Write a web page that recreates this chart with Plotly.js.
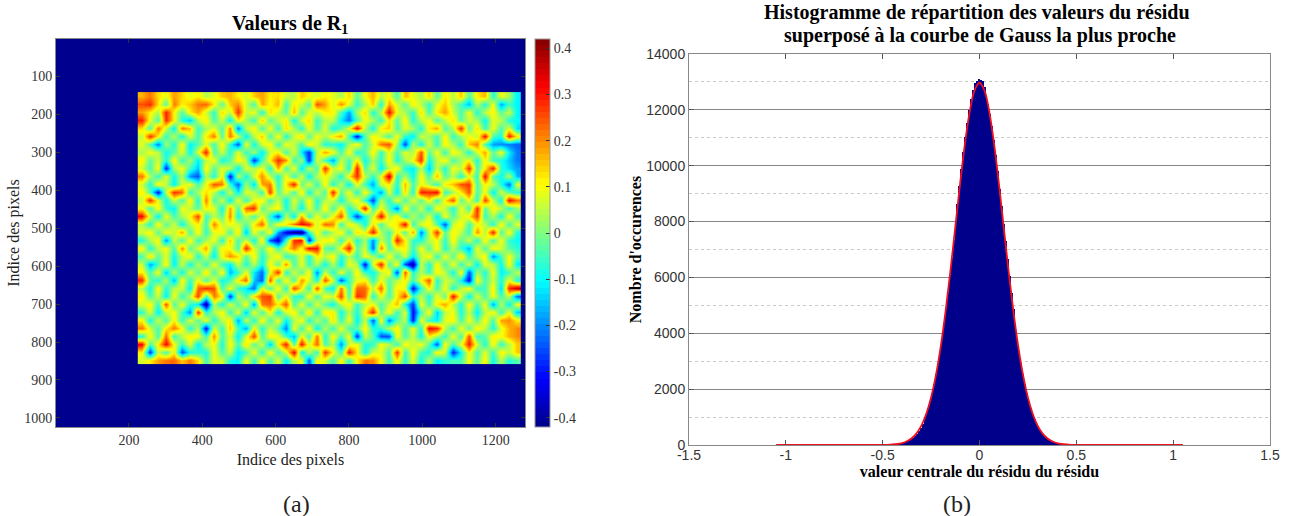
<!DOCTYPE html>
<html><head><meta charset="utf-8">
<script src="https://cdn.plot.ly/plotly-3.0.1.min.js"></script>
<style>html,body{margin:0;padding:0;background:#fff}</style></head>
<body><div id="chart" style="width:1295px;height:516px"></div>
<script>
// Residual map, in 1/120ths, 48 columns x 34 rows
const residualRows = [
[20,26,16,10,22,16,10,14,5,10,18,20,14,8,18,22,14,16,8,5,18,12,8,14,10,4,16,-4,12,20,6,12,-6,20,10,4,16,-4,14,6,18,-4,14,20,-10,12,4,-14],
[30,34,16,-4,26,14,18,26,28,14,-4,18,24,8,-6,22,12,20,-6,14,8,-4,30,22,8,24,10,-8,4,18,-10,22,8,-4,14,6,-8,10,18,4,-6,-20,6,-10,12,-22,-6,-14],
[22,14,4,36,12,-4,14,22,8,-8,16,6,34,6,12,-10,16,8,-4,20,-6,10,6,14,14,-6,-22,4,16,-10,6,38,10,4,-8,16,-6,14,22,8,-6,12,-10,6,14,-4,8,-14],
[36,10,-6,34,14,-10,-18,6,14,-6,8,-14,14,4,-8,18,-4,6,14,-12,8,16,-8,6,6,-14,-26,-6,12,4,-8,16,-4,14,-10,6,12,-6,6,16,-4,8,4,-12,10,6,-10,-12],
[16,-6,26,8,-14,26,18,-8,4,10,-6,24,-26,6,14,-6,12,-8,16,4,-10,12,-6,10,-12,-4,10,38,6,-12,14,18,-6,10,4,-10,14,22,-6,6,34,-4,16,-8,12,-6,10,-16],
[6,34,14,-8,6,-12,10,-6,14,26,-4,26,8,-14,6,18,-6,14,-10,8,16,-4,12,4,14,22,-6,-38,-4,14,6,-6,12,-8,-14,8,4,-6,14,-8,4,12,6,38,-6,-10,36,14],
[10,-4,-26,4,-10,14,-14,-4,10,-6,14,-8,-30,12,-12,8,14,-8,12,6,-6,14,8,-10,-8,-14,4,14,-6,8,26,30,4,-32,6,-12,10,-8,14,4,-8,18,26,-6,-22,-24,-26,-28],
[4,12,6,-12,-4,10,-12,8,36,-6,8,-10,10,-8,4,-14,8,14,-6,10,-14,-34,6,22,12,-6,14,-10,-4,14,-8,12,-6,10,4,30,-4,12,-8,14,6,-10,8,22,-4,12,-14,-26],
[14,-4,8,-10,14,-8,4,-14,6,12,-12,-4,14,6,-34,-6,14,34,24,-8,4,-34,10,-6,-22,8,-6,14,-12,4,-8,14,-10,4,12,34,-12,6,14,-6,4,12,-10,14,-6,-10,-18,-26],
[8,-6,14,-36,4,12,-6,-18,14,-4,10,6,-14,10,4,12,-10,22,-6,12,-16,8,-6,34,6,12,-10,36,-6,10,-14,6,14,-10,-14,6,-18,8,-10,12,6,34,-6,14,36,-8,-16,-22],
[26,4,-8,10,-12,6,-24,-30,6,-10,14,-38,6,-12,8,24,6,-10,12,-8,10,-14,6,12,4,-10,14,34,6,-8,10,44,-8,4,-12,14,-6,20,-4,6,-10,12,-8,38,-4,-12,6,-20],
[8,-10,14,6,-14,8,12,-6,10,30,26,-8,-28,4,-16,22,26,-8,14,36,-4,10,-8,14,-10,6,-14,12,-6,-22,8,14,-10,20,-6,12,4,-8,14,18,30,32,-6,14,6,-10,-28,10],
[14,-4,-38,6,34,28,-8,4,16,6,-12,8,-14,10,6,-8,32,-4,10,-6,16,-12,8,-6,36,-4,12,-10,14,-6,-22,10,-14,16,-10,36,34,38,-8,4,14,30,-6,12,-14,8,-4,-10],
[6,34,10,-12,8,-6,14,-10,26,-6,8,-14,12,-8,10,14,-6,8,-12,10,-6,14,-10,6,8,-12,6,14,-8,-32,6,-10,12,-6,10,-4,14,-8,14,30,-4,12,-8,32,6,-12,38,26],
[12,-6,14,-8,-14,12,6,-4,14,10,-12,22,-6,28,34,-4,8,14,-10,6,-14,10,-6,14,-6,14,-10,4,36,-8,12,-4,-26,14,-6,8,-12,14,6,-10,12,-6,34,-4,14,6,-8,4],
[38,8,-14,12,-6,4,12,32,-8,6,-4,24,-12,8,-6,12,-8,-30,6,-14,22,-8,12,-4,12,30,-6,-32,-10,8,38,4,14,-10,6,-6,10,-14,12,-4,8,14,32,-8,6,-12,14,-6],
[6,-10,14,-4,8,-12,6,14,-6,26,6,12,8,-4,14,28,-4,12,14,26,38,34,6,28,24,-8,14,6,-12,16,-6,12,14,38,-8,10,14,-4,-30,8,14,-6,12,6,-10,14,-6,10],
[8,14,-4,12,6,22,-6,14,-8,10,14,-6,16,-18,12,-4,14,-22,-40,-50,-54,-8,14,-6,6,14,-8,16,10,36,4,-6,14,-4,22,-26,6,34,-4,14,6,-8,24,4,36,-6,14,-10],
[-10,4,14,-24,8,-6,14,-8,4,12,-10,18,-6,8,-12,16,-30,-42,-8,34,38,-36,6,14,12,-8,14,-10,4,-24,8,-6,36,14,-8,-10,6,12,-8,14,-4,8,-10,14,-6,12,-8,-12],
[14,-10,6,12,-6,24,-4,8,22,-8,14,12,-6,36,8,-4,14,-6,12,26,10,38,36,-4,-6,14,36,-4,8,-28,26,-6,10,14,-8,12,-4,14,-10,6,-8,-20,12,-6,14,8,-4,-8],
[-6,16,-4,10,-12,6,14,-10,8,-14,12,24,16,-4,14,-10,6,14,-8,-4,12,-10,14,6,14,-10,6,-8,12,4,-10,14,-6,8,-14,6,14,-8,12,-4,16,-8,6,14,-24,-6,12,-4],
[8,-22,-6,14,-14,8,-12,6,-8,12,-6,-14,8,-10,6,-12,14,-4,24,-6,12,-8,6,-12,6,-14,12,4,-38,10,36,-6,14,-30,-48,8,-10,14,-6,12,-8,8,-14,10,6,-12,14,-14],
[14,-6,12,-18,6,-12,10,-4,16,-6,14,-20,-8,12,-14,-28,10,34,-10,8,-4,14,-24,8,-10,12,-6,14,-8,-12,6,14,-32,30,-10,6,-8,14,6,-12,14,-30,4,-10,12,-14,-6,6],
[34,-4,-10,6,-20,14,-8,12,-6,10,-12,-6,14,28,-18,-30,30,-8,14,-6,24,8,-10,30,8,-30,-6,10,14,-8,12,-4,6,14,-6,12,30,-10,8,4,-12,-38,14,-6,8,-10,12,-10],
[6,-12,14,-10,6,8,-14,28,34,30,-6,12,-8,-14,-28,12,-6,14,-10,32,14,-8,30,-6,-14,26,-8,28,28,6,28,-6,14,10,-38,-8,14,-6,12,-10,6,14,-8,-6,14,-16,34,44],
[14,-6,8,-14,12,-8,6,32,-6,26,14,-34,8,-6,16,30,32,-4,12,-8,-10,14,-6,12,8,32,-6,34,28,-10,12,-6,14,32,-8,6,-10,12,-4,38,8,-14,10,-6,12,-6,8,-28],
[8,14,-8,30,-6,12,-8,-14,-48,6,-12,10,-6,14,-22,26,28,14,30,-6,12,-8,10,-4,-12,6,14,-8,6,12,-6,8,20,-10,-34,12,-6,14,22,6,-10,14,-6,12,-22,6,-14,12],
[-8,10,-14,6,12,-6,-24,34,-10,4,14,-8,10,-18,12,-6,14,-12,8,14,-6,16,-10,14,14,-12,6,-10,12,36,-4,14,-8,10,-38,-6,14,-18,6,12,-10,8,-14,6,14,-8,12,-18],
[14,-12,8,-6,14,-8,10,-4,12,-10,6,14,-22,8,-10,14,-6,12,-14,4,14,-10,6,-6,16,-8,12,-14,8,-30,14,-26,-4,6,-36,12,-8,-14,10,14,-6,12,-4,14,-6,22,24,14],
[26,8,-6,14,26,12,-10,6,-38,10,-8,18,-6,-22,14,-10,8,-4,-26,12,-8,14,-14,6,-8,12,-6,-4,14,-10,-8,6,14,-6,12,-10,38,34,6,-8,12,-4,14,6,-10,10,20,24],
[-10,14,-6,28,-8,6,14,12,-8,24,-6,10,-14,8,32,-6,14,10,-6,-20,14,-6,26,-10,14,-6,12,-34,8,-4,-30,-30,14,-6,8,-12,14,4,-8,12,-6,30,-8,-4,14,12,20,24],
[38,-6,14,38,12,-8,10,-14,6,12,-10,14,-6,16,-4,8,-18,12,36,-6,38,8,28,-6,6,-24,8,12,-10,-8,12,6,-8,14,6,12,-4,-30,14,-6,10,36,8,-10,14,-8,6,18],
[14,-34,8,-6,14,-30,-10,-8,-10,12,-6,8,-14,-6,12,-10,14,-6,8,40,-14,6,-8,34,12,-8,36,14,-12,8,10,-6,34,-8,14,-6,-10,14,8,-36,-12,14,-6,10,-8,14,6,18],
[8,14,22,26,28,18,26,16,-6,10,8,-10,-14,12,-8,14,-6,10,-14,6,12,-28,14,8,-6,14,-8,14,26,24,12,-6,14,-8,10,-12,6,-14,-8,-6,-6,12,-4,14,-12,6,-10,-4]
];
const valueScale = 120;
// Histogram heights, one per 0.01-wide bin starting at -0.454
const histCounts = [14,19,25,33,44,58,76,99,127,163,207,262,328,409,505,621,757,917,1105,1324,1575,1860,2180,2538,2934,3370,3844,4355,4900,5469,6075,6701,7345,7991,8637,9272,9889,10474,11018,11512,12000,12400,12700,12950,13030,13090,13070,13020,12820,12540,12220,11850,11420,10930,10390,9800,9180,8560,7920,7290,6650,6040,5440,4880,4340,3840,3370,2934,2538,2180,1860,1575,1324,1105,917,757,621,505,409,328,262,207,163,127,99,76,58,44,33,25,19];
const histStart = -0.454, histBin = 0.01;
// Fitted Gaussian
const gaussX = [-1.05,-0.55,-0.5,-0.475,-0.45,-0.425,-0.4,-0.375,-0.35,-0.325,-0.3,-0.275,-0.25,-0.225,-0.2,-0.175,-0.15,-0.125,-0.1,-0.075,-0.05,-0.025,0,0.025,0.05,0.075,0.1,0.125,0.15,0.175,0.2,0.225,0.25,0.275,0.3,0.325,0.35,0.375,0.4,0.425,0.45,0.475,0.5,0.55,1.05];
const gaussY = [0,1,4,8,18,36,71,134,241,418,695,1109,1699,2500,3532,4791,6240,7803,9370,10802,11957,12709,12970,12709,11957,10802,9370,7803,6240,4791,3532,2500,1699,1109,695,418,241,134,71,36,18,8,4,1,0];
const mapYTicks = [100,200,300,400,500,600,700,800,900,1000];
const mapXTicks = [200,400,600,800,1000,1200];
const barTicks = [-0.4,-0.3,-0.2,-0.1,0,0.1,0.2,0.3,0.4];
const barLabels = ['-0.4','-0.3','-0.2','-0.1','0','0.1','0.2','0.3','0.4'];
const histXTicks = [-1.5,-1,-0.5,0,0.5,1,1.5];
const histXLabels = ['-1.5','-1','-0.5','0','0.5','1','1.5'];
const histYTicks = [0,2000,4000,6000,8000,10000,12000,14000];
const histYLabels = ['0','2000','4000','6000','8000','10000','12000','14000'];
const backgroundValue = -0.42;

const W = 1295, H = 516;
const fx = p => p / W, fy = p => 1 - p / H;
const SERIF = '"Liberation Serif", serif', SANS = '"Liberation Sans", sans-serif';

// MATLAB-style 64-level jet
const jetStops = [[0,[0,0,135]],[0.125,[0,0,255]],[0.375,[0,255,255]],[0.625,[255,255,0]],[0.875,[255,0,0]],[1,[128,0,0]]];
function jetAt(t){
  for(let i=1;i<jetStops.length;i++){
    if(t<=jetStops[i][0]){
      const a=jetStops[i-1],b=jetStops[i],u=(t-a[0])/(b[0]-a[0]);
      return 'rgb('+a[1].map((v,k)=>Math.round(v+(b[1][k]-v)*u)).join(',')+')';
    }
  }
  return 'rgb(128,0,0)';
}
const jet64=[];
for(let i=0;i<64;i++){const c=jetAt((i+0.5)/64);jet64.push([i/64,c],[(i+1)/64,c]);}

const traces = [
 {type:'heatmap',x:[1,1280],y:[1,1024],z:[[backgroundValue,backgroundValue],[backgroundValue,backgroundValue]],
  zmin:-0.42,zmax:0.42,colorscale:jet64,showscale:false,xaxis:'x',yaxis:'y',hoverinfo:'skip'},
 {type:'heatmap',x0:234.9,dx:21.75,y0:151.5,dy:21.06,z:residualRows.map(r=>r.map(v=>v/valueScale)),
  zmin:-0.42,zmax:0.42,zsmooth:'best',colorscale:jet64,xaxis:'x',yaxis:'y',
  colorbar:{x:fx(535),xanchor:'left',xpad:0,thickness:15,thicknessmode:'pixels',
    y:fy(233),yanchor:'middle',ypad:0,len:388,lenmode:'pixels',
    outlinecolor:'#999',outlinewidth:1,
    tickmode:'array',tickvals:barTicks,ticktext:barLabels,ticks:'inside',ticklen:4,tickcolor:'#333',
    tickfont:{family:SERIF,size:14,color:'#333'}}},
 {type:'bar',x0:histStart,dx:histBin,y:histCounts,xaxis:'x2',yaxis:'y2',
  marker:{color:'#00008b',line:{width:0}}},
 {type:'scatter',mode:'lines',x:gaussX,y:gaussY,xaxis:'x2',yaxis:'y2',line:{color:'#f01020',width:1.8,shape:'spline'}}
];
const caption = (t,px,py,size,bold) => ({text:t,xref:'paper',yref:'paper',x:fx(px),y:fy(py),xanchor:'center',yanchor:'middle',showarrow:false,
  font:{family:SERIF,size:size,color:bold?'#000':'#222',weight:bold?700:400}});
const layout = {
 width:W,height:H,margin:{l:0,r:0,t:0,b:0},paper_bgcolor:'#fff',plot_bgcolor:'#fff',showlegend:false,bargap:0,
 xaxis:{domain:[fx(56),fx(525)],range:[1,1280],anchor:'y',tickmode:'array',tickvals:mapXTicks,ticks:'inside',ticklen:4,tickcolor:'#333',
   showgrid:false,zeroline:false,showline:true,linecolor:'#888',mirror:'ticks',
   tickfont:{family:SERIF,size:14,color:'#333'},
   title:{text:'Indice des pixels',standoff:7,font:{family:SERIF,size:16,color:'#222'}}},
 yaxis:{domain:[fy(427),fy(39)],range:[1024,1],anchor:'x',tickmode:'array',tickvals:mapYTicks,ticks:'inside',ticklen:4,tickcolor:'#333',
   showgrid:false,zeroline:false,showline:true,linecolor:'#888',mirror:'ticks',
   tickfont:{family:SERIF,size:14,color:'#333'},
   title:{text:'Indice des pixels',standoff:0,font:{family:SERIF,size:16,color:'#222'}}},
 xaxis2:{domain:[fx(689),fx(1270)],range:[-1.5,1.5],anchor:'y2',tickmode:'array',tickvals:histXTicks,ticktext:histXLabels,
   ticks:'inside',ticklen:5,tickcolor:'#555',showgrid:false,zeroline:false,showline:true,linecolor:'#888',mirror:'ticks',
   ticklabelstandoff:-3,
   tickfont:{family:SANS,size:14,color:'#333'},
   title:{text:'valeur centrale du résidu du résidu',standoff:3,font:{family:SERIF,size:16,color:'#000',weight:700}}},
 yaxis2:{domain:[fy(445),fy(54)],range:[0,14000],anchor:'x2',tickmode:'array',tickvals:histYTicks,ticktext:histYLabels,
   ticks:'inside',ticklen:5,tickcolor:'#555',showgrid:true,gridcolor:'#888',gridwidth:1,zeroline:false,showline:true,linecolor:'#888',mirror:'ticks',
   minor:{dtick:1000,showgrid:true,griddash:'dot',gridcolor:'#c8c8c8',gridwidth:1,ticks:''},
   tickfont:{family:SANS,size:14,color:'#333'},
   title:{text:"Nombre d'occurences",standoff:0,font:{family:SERIF,size:16,color:'#000',weight:700}}},
 annotations:[
  caption('Valeurs de R<sub>1</sub>',290,25,20,true),
  caption('Histogramme de répartition des valeurs du résidu',977,12,20,true),
  caption('superposé à la courbe de Gauss la plus proche',980,35,20,true),
  caption('(a)',296,504,24,false),
  caption('(b)',957,504,24,false)
 ]
};
Plotly.newPlot('chart',traces,layout,{staticPlot:true,displayModeBar:false});
</script></body></html>
